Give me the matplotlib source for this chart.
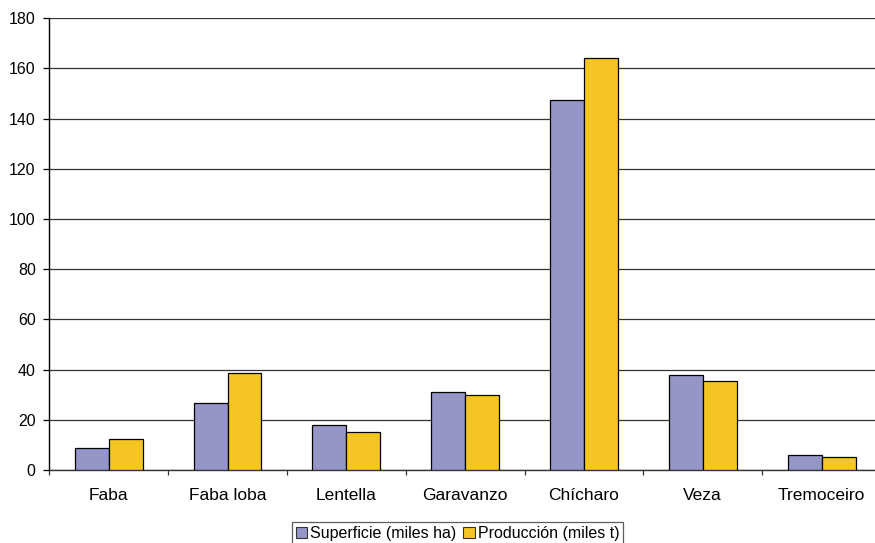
import numpy as np
import matplotlib.pyplot as plt
from matplotlib.patches import Patch

# Leguminosas: superficie cultivada e produción
categories = ['Faba', 'Faba loba', 'Lentella', 'Garavanzo', 'Chícharo', 'Veza', 'Tremoceiro']
superficie = [8.7, 26.5, 18.0, 31.1, 147.4, 37.7, 5.8]
produccion = [12.3, 38.5, 15.2, 29.7, 164.2, 35.6, 5.0]
series_labels = ['Superficie (miles ha)', 'Producción (miles t)']
yticks = [0, 20, 40, 60, 80, 100, 120, 140, 160, 180]

c_sup = '#9595C8'
c_prod = '#F5C623'

plt.rcParams['font.family'] = ['Liberation Sans', 'DejaVu Sans']

W, H = 875, 543
fig = plt.figure(figsize=(W / 100, H / 100), dpi=100)
# plot area runs slightly past the right edge of the figure
x0, x1 = 49.3, 881.0
y0, y1 = 470.0, 18.3
ax = fig.add_axes([x0 / W, (H - y0) / H, (x1 - x0) / W, (y0 - y1) / H])

n = len(categories)
centers = np.arange(n) + 0.5
bw = 1 / 3.5

ax.bar(centers - bw / 2, superficie, bw, color=c_sup, edgecolor='black', linewidth=0.9, zorder=3)
ax.bar(centers + bw / 2, produccion, bw, color=c_prod, edgecolor='black', linewidth=0.9, zorder=3)

ax.set_xlim(0, n)
ax.set_ylim(0, 180)
ax.set_yticks(yticks)
ax.set_yticklabels([str(v) for v in yticks], fontsize=11.5)
ax.grid(axis='y', color='#333333', linewidth=0.9, zorder=0)

# category boundaries as tick marks, names centred between them
ax.set_xticks(np.arange(n + 1))
ax.set_xticklabels([])
ax.set_xticks(centers, minor=True)
ax.set_xticklabels(categories, minor=True, fontsize=12.5)
ax.tick_params(axis='x', which='major', direction='out', length=3.6, width=0.9, color='#333333')
ax.tick_params(axis='x', which='minor', length=0, pad=13)
ax.tick_params(axis='y', direction='out', length=4.3, width=0.9, pad=5.5)

for side in ['top', 'right']:
    ax.spines[side].set_visible(False)
ax.spines['left'].set_linewidth(1.0)
ax.spines['bottom'].set_linewidth(1.0)
ax.spines['bottom'].set_color('#333333')

handles = [Patch(facecolor=c_sup, edgecolor='#333333', linewidth=0.8),
           Patch(facecolor=c_prod, edgecolor='#333333', linewidth=0.8)]
leg = fig.legend(handles, series_labels, loc='center', bbox_to_anchor=(457.5 / W, (H - 533.5) / H),
                 ncol=2, fontsize=11.5, frameon=True, fancybox=False,
                 handlelength=0.7, handleheight=0.7, handletextpad=0.2,
                 columnspacing=0.45, borderpad=0.25, borderaxespad=0)
leg.get_frame().set_edgecolor('#333333')
leg.get_frame().set_linewidth(0.9)

fig.savefig('out.png', dpi=100)
